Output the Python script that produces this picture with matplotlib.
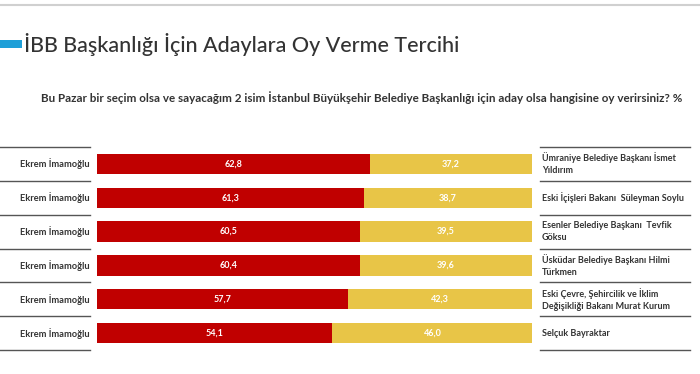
import matplotlib.pyplot as plt
import matplotlib.transforms as mtransforms

plt.rcParams['font.family'] = ['Lato', 'DejaVu Sans']

left_names = ["Ekrem İmamoğlu"] * 6
right_names = [
    "Ümraniye Belediye Başkanı İsmet\nYıldırım",
    "Eski İçişleri Bakanı  Süleyman Soylu",
    "Esenler Belediye Başkanı  Tevfik\nGöksu",
    "Üsküdar Belediye Başkanı Hilmi\nTürkmen",
    "Eski Çevre, Şehircilik ve İklim\nDeğişikliği Bakanı Murat Kurum",
    "Selçuk Bayraktar",
]
imamoglu = [62.8, 61.3, 60.5, 60.4, 57.7, 54.1]
rival = [37.2, 38.7, 39.5, 39.6, 42.3, 46.0]

W, H = 700, 374
fig = plt.figure(figsize=(W / 100, H / 100), dpi=100)
fig.patch.set_facecolor('white')

# top grey rule, blue marker, title, question
fig.add_artist(plt.Line2D([0, 1], [1 - 5 / H, 1 - 5 / H], color='#d0d0d0', lw=1.5))
fig.add_artist(plt.Rectangle((0, 1 - 48 / H), 22 / W, 8 / H, color='#1e9fd8', lw=0))
fig.text(24 / W, 1 - 44 / H, "İBB Başkanlığı İçin Adaylara Oy Verme Tercihi",
         fontsize=15.5, fontweight='medium', color='#333333', va='center', ha='left')
fig.text(682 / W, 1 - 98 / H,
         "Bu Pazar bir seçim olsa ve sayacağım 2 isim İstanbul Büyükşehir Belediye Başkanlığı için aday olsa hangisine oy verirsiniz? %",
         fontsize=8.4, fontweight='bold', color='#333333', va='center', ha='right')

ax = fig.add_axes([97 / W, (H - 350) / H, 435 / W, 203 / H])
y = list(range(len(imamoglu)))
ax.barh(y, imamoglu, height=0.6, color='#c00000')
ax.barh(y, rival, left=imamoglu, height=0.6, color='#e8c547')
ax.set_xlim(0, 100)
ax.set_ylim(len(y) - 0.5, -0.5)
ax.axis('off')

tr = mtransforms.blended_transform_factory(ax.transAxes, ax.transData)
for i in y:
    ax.text(imamoglu[i] / 2, i, f"{imamoglu[i]:.1f}".replace('.', ','),
            color='white', fontsize=6.5, fontweight='bold', ha='center', va='center')
    ax.text(imamoglu[i] + rival[i] / 2, i, f"{rival[i]:.1f}".replace('.', ','),
            color='white', fontsize=6.5, fontweight='bold', ha='center', va='center')
    ax.text(-7 / 435, i, left_names[i], transform=tr, fontsize=6.7, fontweight='bold',
            color='#333333', ha='right', va='center')
    ax.text(542 / 435 - 97 / 435, i, right_names[i], transform=tr, fontsize=6.5,
            fontweight='bold', color='#333333', ha='left', va='center', linespacing=1.4)

for k in range(len(y) + 1):
    yy = k - 0.5
    ax.plot([-97 / 435, -7 / 435], [yy, yy], transform=tr, color='#555555', lw=1, clip_on=False)
    ax.plot([540 / 435 - 97 / 435, 690 / 435 - 97 / 435], [yy, yy], transform=tr,
            color='#555555', lw=1, clip_on=False)

fig.savefig('out.png', dpi=100)
